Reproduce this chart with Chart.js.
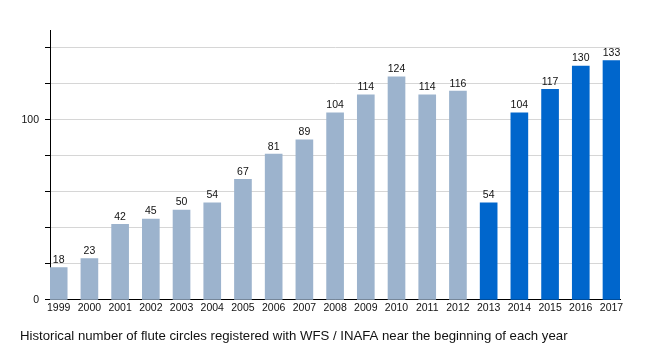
<!DOCTYPE html>
<html>
<head>
<meta charset="utf-8">
<title>Flute circles</title>
<script src="https://cdn.jsdelivr.net/npm/chart.js@4/dist/chart.umd.min.js"></script>
<style>
    html, body { margin: 0; padding: 0; background: #fff; }
    #wrap { width: 650px; height: 350px; }
</style>
</head>
<body>
<div id="wrap"><canvas id="chart" width="650" height="350"></canvas></div>
<script>
const years = [1999, 2000, 2001, 2002, 2003, 2004, 2005, 2006, 2007, 2008,
    2009, 2010, 2011, 2012, 2013, 2014, 2015, 2016, 2017];
const circles = [18, 23, 42, 45, 50, 54, 67, 81, 89, 104,
    114, 124, 114, 116, 54, 104, 117, 130, 133];
const yLabelTicks = [0, 100];
const newRegistryFrom = 2013;
const chartTitle = 'Historical number of flute circles registered with WFS / INAFA near the beginning of each year';

const LIGHT = '#9cb3cd';
const DARK = '#0066cc';
const FONT = '"Liberation Sans", Arial, sans-serif';

// numbers above each bar
const valueLabels = {
    id: 'valueLabels',
    afterDatasetsDraw(chart) {
        const ctx = chart.ctx;
        const meta = chart.getDatasetMeta(0);
        ctx.save();
        ctx.font = '10.5px ' + FONT;
        ctx.fillStyle = '#111';
        ctx.textAlign = 'center';
        ctx.textBaseline = 'alphabetic';
        meta.data.forEach((bar, i) => {
            ctx.fillText(String(circles[i]), bar.x, bar.y - 4.5);
        });
        ctx.restore();
    },
};

new Chart(document.getElementById('chart'), {
    type: 'bar',
    data: {
        datasets: [{
            data: years.map((y, i) => ({ x: y, y: circles[i] })),
            backgroundColor: (c) => (years[c.dataIndex] >= newRegistryFrom ? DARK : LIGHT),
            borderWidth: 0,
            barThickness: 17,
        }],
    },
    options: {
        responsive: false,
        animation: false,
        layout: { padding: { left: 20, right: 30, top: 30, bottom: 0 } },
        plugins: {
            legend: { display: false },
            tooltip: { enabled: false },
            title: {
                display: true,
                text: chartTitle,
                position: 'bottom',
                align: 'start',
                color: '#111',
                font: { family: FONT, size: 13.2, weight: 'normal' },
                padding: { top: 10.5, bottom: 5.7 },
            },
        },
        scales: {
            x: {
                type: 'linear',
                offset: false,
                min: 1998.717,
                max: 2017.277,
                grid: { display: false, offset: false, drawTicks: false },
                border: { display: true, color: '#000', width: 1 },
                ticks: {
                    stepSize: 1,
                    includeBounds: false,
                    autoSkip: false,
                    maxRotation: 0,
                    padding: 2,
                    color: '#111',
                    font: { family: FONT, size: 10.5 },
                    callback: (v) => String(v),
                },
                afterFit: (scale) => { scale.height = 18; },
            },
            y: {
                min: 0,
                max: 150,
                grid: {
                    color: (c) => (c.tick && c.tick.value === 0 ? '#000' : '#d6d6d6'),
                    tickColor: '#000',
                    tickLength: 5,
                },
                border: { display: true, color: '#000', width: 1 },
                ticks: {
                    stepSize: 20,
                    includeBounds: false,
                    padding: 6,
                    color: '#111',
                    font: { family: FONT, size: 10.5 },
                    callback: (v) => (yLabelTicks.includes(v) ? String(v) : ''),
                },
                afterFit: (scale) => { scale.width = 30; },
            },
        },
    },
    plugins: [valueLabels],
});
</script>
</body>
</html>
